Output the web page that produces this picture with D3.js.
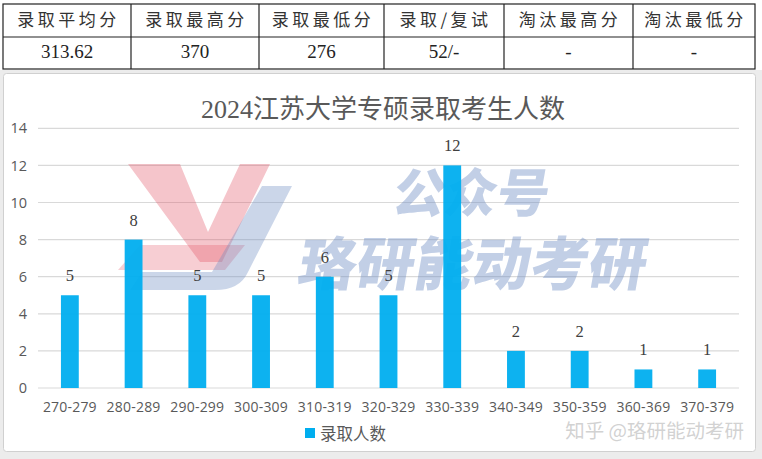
<!DOCTYPE html>
<html><head><meta charset="utf-8">
<script src="https://cdn.jsdelivr.net/npm/d3@7/dist/d3.min.js"></script>
<style>
html,body{margin:0;padding:0;background:#fff;}
svg{display:block;}
</style></head>
<body>
<svg id="c" width="762" height="459"></svg>
<script>
const tableHeaders = ["录取平均分","录取最高分","录取最低分","录取/复试","淘汰最高分","淘汰最低分"];
const tableValues = ["313.62","370","276","52/-","-","-"];
const categories = ["270-279","280-289","290-299","300-309","310-319","320-329","330-339","340-349","350-359","360-369","370-379"];
const admitted = [5,8,5,5,6,5,12,2,2,1,1];
const yTicks = [0,2,4,6,8,10,12,14];
const title = "2024江苏大学专硕录取考生人数";
const seriesName = "录取人数";

const svg = d3.select("#c");
const serif = "'Liberation Serif','Times New Roman','Noto Sans CJK SC',serif";
const sans = "'Open Sans','Noto Sans','Noto Sans CJK SC',sans-serif";
const cjk = "'Noto Sans CJK SC',sans-serif";

// ---- table ----
const colEdges = [3,131,259,384,504,633,755];
const rowEdges = [4,37,69];
const tg = svg.append("g");
tg.append("rect").attr("x",colEdges[0]).attr("y",rowEdges[0])
  .attr("width",colEdges[6]-colEdges[0]).attr("height",rowEdges[2]-rowEdges[0])
  .attr("fill","#fff").attr("stroke","#222").attr("stroke-width",1.2);
tg.append("line").attr("x1",colEdges[0]).attr("x2",colEdges[6]).attr("y1",rowEdges[1]).attr("y2",rowEdges[1]).attr("stroke","#222").attr("stroke-width",1.2);
colEdges.slice(1,-1).forEach(x=>tg.append("line").attr("x1",x).attr("x2",x).attr("y1",rowEdges[0]).attr("y2",rowEdges[2]).attr("stroke","#222").attr("stroke-width",1.2));
tableHeaders.forEach((h,i)=>{
  tg.append("text").attr("x",(colEdges[i]+colEdges[i+1])/2+1.5).attr("y",(rowEdges[0]+rowEdges[1])/2+1)
    .attr("text-anchor","middle").attr("dominant-baseline","middle")
    .attr("font-family",cjk).attr("font-size",17).attr("letter-spacing",3.5).attr("fill","#333").text(h);
});
tableValues.forEach((v,i)=>{
  tg.append("text").attr("x",(colEdges[i]+colEdges[i+1])/2).attr("y",(rowEdges[1]+rowEdges[2])/2+1)
    .attr("text-anchor","middle").attr("dominant-baseline","middle")
    .attr("font-family",serif).attr("font-size",19).attr("fill","#222").text(v);
});

// ---- chart box ----
svg.append("rect").attr("x",0).attr("y",70).attr("width",762).attr("height",389).attr("fill","#ececec");
svg.append("rect").attr("x",3.5).attr("y",73.5).attr("width",752).attr("height",378).attr("rx",3)
  .attr("fill","#fff").attr("stroke","#d0d0d0");

const x = d3.scaleBand().domain(categories).range([38,739]).paddingInner(0.72).paddingOuter(0.36);
const y = d3.scaleLinear().domain([0,14]).range([388,128.3]);

// gridlines
svg.append("g").selectAll("line").data(yTicks).join("line")
  .attr("x1",38).attr("x2",739).attr("y1",d=>y(d)).attr("y2",d=>y(d))
  .attr("stroke","#d9d9d9").attr("stroke-width",1.2);

// y axis labels
const yAxis = d3.axisLeft(y).tickValues(yTicks).tickSize(0).tickPadding(0);
const ya = svg.append("g").attr("transform","translate(27,0)").call(yAxis);
ya.select(".domain").remove();
ya.selectAll("text").attr("font-family",sans).attr("font-size",14.5).attr("fill","#595959");

// watermark logo (decorative)
const wm = svg.append("g");
wm.append("path").attr("d","M128,164 L180,164 L208,232 L240,164 L270,164 L222,262 L200,262 Z").attr("fill","rgba(226,80,96,0.33)");
wm.append("path").attr("d","M118,270 L225,270 L245,245 L140,245 Z").attr("fill","rgba(226,80,96,0.28)");
wm.append("path").attr("d","M262,186 L292,186 L248,272 Q240,290 215,290 L130,290 L142,272 L212,272 Z").attr("fill","rgba(110,140,195,0.36)");
wm.append("text").attr("x",470).attr("y",212).attr("text-anchor","middle")
  .attr("font-family",cjk).attr("font-weight",900).attr("font-size",52)
  .attr("transform","skewX(-10) translate(36,0)")
  .attr("fill","rgba(110,140,195,0.42)").text("公众号");
wm.append("text").attr("x",472).attr("y",285).attr("text-anchor","middle")
  .attr("font-family",cjk).attr("font-weight",900).attr("font-size",58)
  .attr("transform","skewX(-10) translate(48,0)")
  .attr("fill","rgba(110,140,195,0.42)").text("珞研能动考研");

// bars
svg.append("g").selectAll("rect").data(categories).join("rect")
  .attr("x",d=>x(d)).attr("width",x.bandwidth())
  .attr("y",(d,i)=>y(admitted[i])).attr("height",(d,i)=>y(0)-y(admitted[i]))
  .attr("fill","#00aeef").attr("fill-opacity",0.95);

// value labels
svg.append("g").selectAll("text").data(categories).join("text")
  .attr("x",d=>x(d)+x.bandwidth()/2).attr("y",(d,i)=>y(admitted[i])-14)
  .attr("text-anchor","middle").attr("font-family",serif).attr("font-size",16.5).attr("fill","#404040")
  .text((d,i)=>admitted[i]);

// x axis labels
const xa = svg.append("g").attr("transform","translate(0,388)").call(d3.axisBottom(x).tickSize(0).tickPadding(14));
xa.select(".domain").remove();
xa.selectAll("text").attr("font-family",sans).attr("font-size",14).attr("fill","#595959").attr("letter-spacing",0.2);

// title
svg.append("text").attr("x",383).attr("y",118).attr("text-anchor","middle")
  .attr("font-family",serif).attr("font-size",26).attr("fill","#595959").text(title);

// legend
svg.append("rect").attr("x",305).attr("y",428).attr("width",10).attr("height",10).attr("fill","#00aeef");
svg.append("text").attr("x",320).attr("y",439.5).attr("font-family",cjk).attr("font-size",16.5).attr("fill","#595959").text(seriesName);

// zhihu watermark
svg.append("text").attr("x",744).attr("y",438).attr("text-anchor","end")
  .attr("font-family",cjk).attr("font-size",19.5).attr("fill","rgba(195,195,195,0.75)").text("知乎 @珞研能动考研");
</script>
</body></html>
